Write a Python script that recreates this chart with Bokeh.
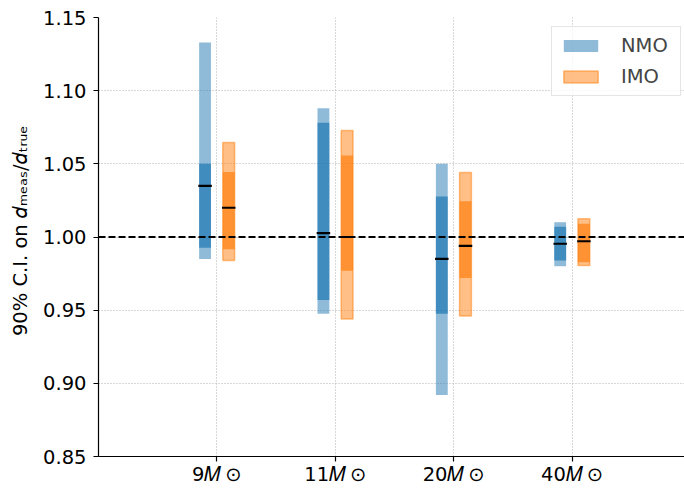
from bokeh.plotting import figure
from bokeh.models import Range1d, FixedTicker, Span, Legend, LegendItem
from bokeh.embed import file_html
from bokeh.resources import INLINE

masses = ["9𝑀\u2009⊙", "11𝑀\u2009⊙", "20𝑀\u2009⊙", "40𝑀\u2009⊙"]

# NMO: 90% interval (outer), inner interval, median
nmo_lo = [0.985, 0.9475, 0.892, 0.980]
nmo_hi = [1.133, 1.088, 1.050, 1.010]
nmo_in_lo = [0.9926, 0.957, 0.9475, 0.984]
nmo_in_hi = [1.050, 1.078, 1.0277, 1.007]
nmo_med = [1.035, 1.0026, 0.985, 0.9954]

# IMO
imo_lo = [0.984, 0.944, 0.946, 0.9805]
imo_hi = [1.0646, 1.0728, 1.044, 1.0124]
imo_in_lo = [0.9916, 0.977, 0.972, 0.9828]
imo_in_hi = [1.0445, 1.0557, 1.0244, 1.009]
imo_med = [1.020, 1.000, 0.994, 0.9971]

y_ticks = [0.85, 0.90, 0.95, 1.00, 1.05, 1.10, 1.15]

BLUE = "#1f77b4"
ORANGE = "#ff7f0e"
FONT = "DejaVu Sans"
FS = "19.5px"

pos = [i + 1 for i in range(len(masses))]
off = 0.1
bw = 0.1
mw = 0.057

p = figure(width=684, height=488, output_backend="svg", toolbar_location=None,
           x_range=Range1d(0, 4.95), y_range=Range1d(0.85, 1.15),
           min_border_left=98, min_border_top=17, min_border_right=0, min_border_bottom=32)
p.outline_line_color = None
p.background_fill_color = "white"

# grid
for g in (p.xgrid, p.ygrid):
    g.grid_line_color = "#b0b0b0"
    g.grid_line_dash = "1 2"
    g.grid_line_width = 1
p.xaxis.ticker = FixedTicker(ticks=pos)
p.yaxis.ticker = FixedTicker(ticks=y_ticks)
p.xaxis.major_label_overrides = {pp: m for pp, m in zip(pos, masses)}
p.yaxis.major_label_overrides = {t: f"{t:.2f}" for t in y_ticks}

for ax in (p.xaxis, p.yaxis):
    ax.axis_line_color = "black"
    ax.axis_line_width = 1.2
    ax.major_tick_line_color = "black"
    ax.major_tick_line_width = 1.2
    ax.major_tick_out = 5
    ax.major_tick_in = 0
    ax.minor_tick_line_color = None
    ax.major_label_text_font = FONT
    ax.major_label_text_font_size = FS
    ax.major_label_text_color = "black"
p.yaxis.major_label_standoff = 7
p.xaxis.major_label_standoff = 1

p.yaxis.axis_label = "\u00a0\u00a090% C.I. on 𝑑ₘₑₐₛ/𝑑ₜᵣᵤₑ"
p.yaxis.axis_label_text_font = FONT
p.yaxis.axis_label_text_font_size = FS
p.yaxis.axis_label_text_font_style = "normal"
p.yaxis.axis_label_text_color = "black"
p.yaxis.axis_label_standoff = 8

xn = [x - off for x in pos]
xi = [x + off for x in pos]

# NMO bars
r_nmo = p.vbar(x=xn, width=bw, bottom=nmo_lo, top=nmo_hi, fill_color=BLUE, fill_alpha=0.5,
               line_color=None)
p.vbar(x=xn, width=bw, bottom=nmo_in_lo, top=nmo_in_hi, fill_color=BLUE, fill_alpha=0.7,
       line_color=None)
# IMO bars
r_imo = p.vbar(x=xi, width=bw, bottom=imo_lo, top=imo_hi, fill_color=ORANGE, fill_alpha=0.5,
               line_color=ORANGE, line_alpha=0.5, line_width=1.5)
p.vbar(x=xi, width=bw, bottom=imo_in_lo, top=imo_in_hi, fill_color=ORANGE, fill_alpha=0.7,
       line_color=None)

# dashed reference line
p.add_layout(Span(location=1.0, dimension="width", line_color="black", line_width=2,
                  line_dash="7 3"))

# medians
p.segment(x0=[x - mw for x in xn], x1=[x + mw for x in xn], y0=nmo_med, y1=nmo_med,
          line_color="black", line_width=2.2)
p.segment(x0=[x - mw for x in xi], x1=[x + mw for x in xi], y0=imo_med, y1=imo_med,
          line_color="black", line_width=2.2)

legend = Legend(items=[LegendItem(label="NMO", renderers=[r_nmo]),
                       LegendItem(label="IMO", renderers=[r_imo])],
                location=(453, 360))
legend.label_text_font = FONT
legend.label_text_font_size = FS
legend.glyph_width = 43
legend.glyph_height = 15
legend.label_height = 20
legend.label_width = 52
legend.label_standoff = 19
legend.spacing = 8
legend.padding = 7
legend.border_line_color = "#cccccc"
legend.border_line_width = 1
legend.background_fill_alpha = 0.8
legend.margin = 0
p.add_layout(legend)

open("out.html", "w").write(file_html(p, INLINE))
